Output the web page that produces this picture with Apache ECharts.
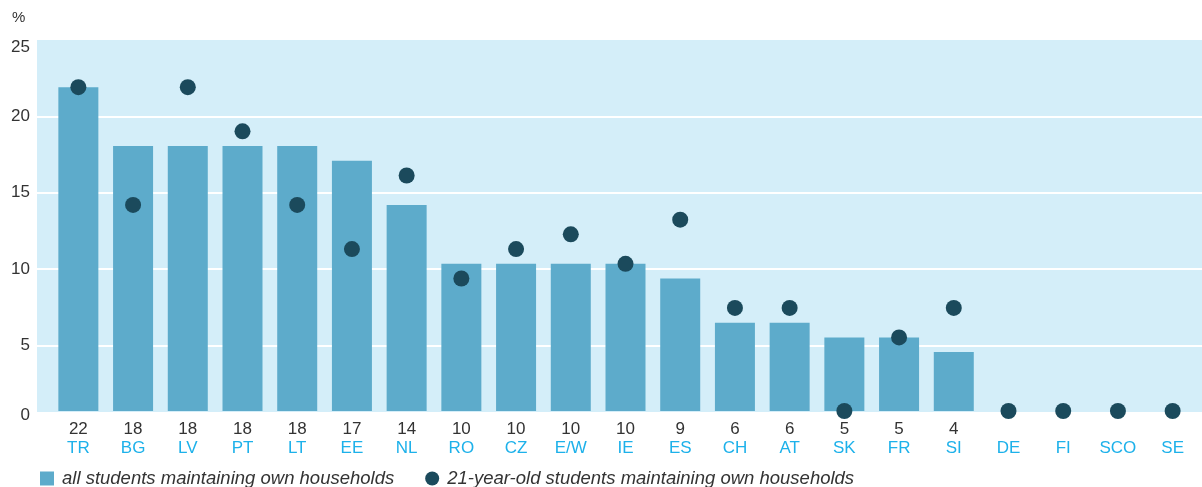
<!DOCTYPE html>
<html>
<head>
<meta charset="utf-8">
<script src="https://cdn.jsdelivr.net/npm/echarts@6/dist/echarts.min.js"></script>
<style>
html,body{margin:0;padding:0;background:#fff;}
#chart{width:1202px;height:487px;}
</style>
</head>
<body>
<div id="chart"></div>
<script>
const categories = ['TR','BG','LV','PT','LT','EE','NL','RO','CZ','E/W','IE','ES','CH','AT','SK','FR','SI','DE','FI','SCO','SE'];
const allStudents = [22,18,18,18,18,17,14,10,10,10,10,9,6,6,5,5,4,null,null,null,null];
const students21 = [22,14,22,19,14,11,16,9,11,12,10,13,7,7,0,5,7,0,0,0,0];
const yTicks = [0,5,10,15,20,25];
const seriesNames = ['all students maintaining own households','21-year-old students maintaining own households'];

const FONT = '"Liberation Sans", Arial, sans-serif';
const chart = echarts.init(document.getElementById('chart'), null, {renderer:'canvas'});

chart.setOption({
  animation: false,
  backgroundColor: '#ffffff',
  textStyle: {fontFamily: FONT},
  title: {
    text: '%', left: 12, top: 10, padding: 0,
    textStyle: {fontFamily: FONT, fontSize: 15, fontWeight: 'normal', color: '#333'}
  },
  graphic: [{
    type: 'rect', left: 37, top: 40, z: -10,
    shape: {width: 1165, height: 372},
    style: {fill: '#d4eef9'}
  }],
  grid: [
    {left: 37, right: 0, top: 40, bottom: 65, containLabel: false},
    {left: 51, right: 2, top: 43, bottom: 76, containLabel: false}
  ],
  xAxis: [
    {type: 'value', gridIndex: 0, show: false, min: 0, max: 1},
    {
      type: 'category', gridIndex: 1, data: categories,
      axisLine: {show: false}, axisTick: {show: false},
      axisLabel: {
        interval: 0, margin: 9,
        formatter: function (v, i) {
          const n = allStudents[i] == null ? ' ' : String(allStudents[i]);
          return '{n|' + n + '}\n{c|' + v + '}';
        },
        rich: {
          n: {fontFamily: FONT, fontSize: 17, color: '#333', lineHeight: 19},
          c: {fontFamily: FONT, fontSize: 17, color: '#1db1ea', lineHeight: 19}
        }
      }
    }
  ],
  yAxis: [
    {
      type: 'value', gridIndex: 0, min: yTicks[0], max: yTicks[yTicks.length-1], interval: 5,
      axisLine: {show: false}, axisTick: {show: false},
      axisLabel: {
        margin: 7,
        formatter: function (v) {
          if (v === 25) return '{a|' + v + '}';
          if (v === 0) return '{b|' + v + '}';
          return '{c|' + v + '}';
        },
        rich: {
          a: {fontFamily: FONT, fontSize: 17, color: '#333', padding: [14,0,0,0]},
          b: {fontFamily: FONT, fontSize: 17, color: '#333', padding: [0,0,14,0]},
          c: {fontFamily: FONT, fontSize: 17, color: '#333'}
        }
      },
      splitLine: {show: true, lineStyle: {width: 2, color: ['rgba(0,0,0,0)','#ffffff','#ffffff','#ffffff','#ffffff','rgba(0,0,0,0)']}}
    },
    {type: 'value', gridIndex: 1, min: 0, max: 25, show: false, splitLine: {show: false}}
  ],
  legend: {
    left: 40, top: 469, padding: 0,
    itemWidth: 14, itemHeight: 14, itemGap: 31,
    textStyle: {fontFamily: FONT, fontSize: 18.5, fontStyle: 'italic', color: '#333', padding: [0,0,0,3]},
    data: [
      {name: seriesNames[0], icon: 'rect'},
      {name: seriesNames[1], icon: 'circle'}
    ]
  },
  series: [
    {
      name: seriesNames[0], type: 'bar', xAxisIndex: 1, yAxisIndex: 1,
      data: allStudents, barWidth: 40,
      itemStyle: {color: '#5dabcb'}
    },
    {
      name: seriesNames[1], type: 'scatter', xAxisIndex: 1, yAxisIndex: 1,
      data: students21, symbol: 'circle', symbolSize: 16,
      itemStyle: {color: '#1b4a5c', opacity: 1}, z: 5
    }
  ]
});
</script>
</body>
</html>
